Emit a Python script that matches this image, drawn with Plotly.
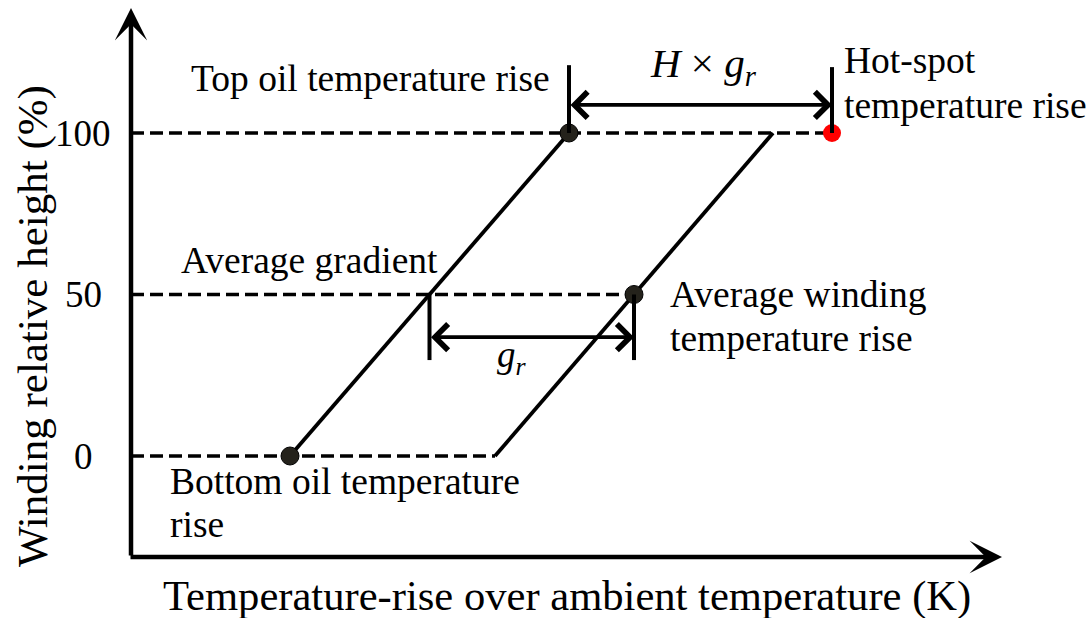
import plotly.graph_objects as go

# ---------------- data ----------------
heights = [0, 50, 100]                 # winding relative height (%)
ytick_labels = ["0", "50", "100"]
oil_rise = [15.9, 43.8]                # bottom oil / top oil temperature rise (at 0 % and 100 %)
winding_rise = [36.4, 64.2]            # winding temperature rise line (at 0 % and 100 %)
avg_oil = 29.85                        # oil temperature rise at 50 %
avg_winding = 50.3                     # average winding temperature rise (at 50 %)
hot_spot = 70.1                        # hot-spot temperature rise (at 100 %)
dot_x = [oil_rise[0], oil_rise[1], avg_winding]
dot_y = [heights[0], heights[2], heights[1]]

# ---------------- layout helpers ----------------
W, HGT = 1088, 618
X_RANGE = [-13.1, 95.7]
Y_RANGE = [-50.155, 141.176]
X0, Y0 = 0, -31.27                      # axes origin
X_TIP, Y_TIP = 87.1, 138.7              # arrow tips

def pxx(p):
    return p / W

def pxy(p):
    return 1 - p / HGT

FONT = "Liberation Serif, Times New Roman, serif"
fig = go.Figure()

# dashed reference lines
dash_ends = [winding_rise[0], avg_winding, hot_spot]
for h, xe in zip(heights, dash_ends):
    fig.add_trace(go.Scatter(x=[X0, xe], y=[h, h], mode="lines",
                             line=dict(color="black", width=3.4, dash="13px,6px"),
                             hoverinfo="skip", showlegend=False))

# oil and winding lines
fig.add_trace(go.Scatter(x=oil_rise, y=[heights[0], heights[2]], mode="lines",
                         line=dict(color="black", width=3.8), showlegend=False))
fig.add_trace(go.Scatter(x=winding_rise, y=[heights[0], heights[2]], mode="lines",
                         line=dict(color="black", width=3.8), showlegend=False))

# dots
fig.add_trace(go.Scatter(x=dot_x, y=dot_y, mode="markers",
                         marker=dict(size=18, color="#24221b", line=dict(color="black", width=1)),
                         showlegend=False))
fig.add_trace(go.Scatter(x=[hot_spot], y=[heights[2]], mode="markers",
                         marker=dict(size=18, color="#ff0000", line=dict(width=0)),
                         showlegend=False))

# vertical dimension ticks
ytop_dim, ylow_dim = 121.0, 29.7
shapes = [
    dict(type="line", x0=oil_rise[1], x1=oil_rise[1], y0=heights[2], y1=ytop_dim, line=dict(color="black", width=4)),
    dict(type="line", x0=hot_spot, x1=hot_spot, y0=heights[2], y1=120.4, line=dict(color="black", width=4)),
    dict(type="line", x0=avg_oil, x1=avg_oil, y0=heights[1], y1=ylow_dim, line=dict(color="black", width=4)),
    dict(type="line", x0=avg_winding, x1=avg_winding, y0=heights[1], y1=ylow_dim, line=dict(color="black", width=4)),
]

ann = []
# axes with arrows
ann.append(dict(x=X0, y=Y_TIP, ax=X0, ay=Y0, xref="x", yref="y", axref="x", ayref="y",
                text="", showarrow=True, arrowhead=3, arrowwidth=4.5, arrowsize=1.2, arrowcolor="black"))
ann.append(dict(x=X_TIP, y=Y0, ax=X0 - 0.2, ay=Y0, xref="x", yref="y", axref="x", ayref="y",
                text="", showarrow=True, arrowhead=3, arrowwidth=4.5, arrowsize=1.2, arrowcolor="black"))
# double arrows
for xa, xb, yy in [(oil_rise[1], hot_spot, 108.7), (avg_oil, avg_winding, 36.8)]:
    ann.append(dict(x=xb, y=yy, ax=xa, ay=yy, xref="x", yref="y", axref="x", ayref="y",
                    text="", showarrow=True, arrowside="end+start", arrowhead=4, startarrowhead=4,
                    arrowwidth=3.6, arrowsize=1.4, startarrowsize=1.4, arrowcolor="black"))

# y tick labels
for v, lab in zip(heights, ytick_labels):
    ann.append(dict(x=pxx(83), y=v, xref="paper", yref="y", text=lab, showarrow=False,
                    xanchor="center", yanchor="middle", font=dict(family=FONT, size=37, color="black")))

# text labels (left x, center y in pixels)
labels = [
    ("Top oil temperature rise", 189, 79),
    ("Hot-spot", 842, 61),
    ("temperature rise", 842, 106),
    ("Average gradient", 179, 260),
    ("Average winding", 668, 295),
    ("temperature rise", 668, 338),
    ("Bottom oil temperature", 168, 482),
    ("rise", 168, 524),
]
for t, lx, cy in labels:
    ann.append(dict(x=pxx(lx), y=pxy(cy), xref="paper", yref="paper", text=t, showarrow=False,
                    xanchor="left", yanchor="middle", font=dict(family=FONT, size=37.5, color="black")))

# math labels
ann.append(dict(x=pxx(703), y=pxy(66), xref="paper", yref="paper",
                text="<i>H</i> × <i>g</i><sub><i>r</i></sub>", showarrow=False,
                xanchor="center", yanchor="middle", font=dict(family=FONT, size=41, color="black")))
ann.append(dict(x=pxx(512), y=pxy(357), xref="paper", yref="paper",
                text="<i>g</i><sub><i>r</i></sub>", showarrow=False,
                xanchor="center", yanchor="middle", font=dict(family=FONT, size=37, color="black")))

# axis titles
ann.append(dict(x=pxx(567), y=pxy(596), xref="paper", yref="paper",
                text="Temperature-rise over ambient temperature (K)", showarrow=False,
                xanchor="center", yanchor="middle", font=dict(family=FONT, size=42.6, color="black")))
ann.append(dict(x=pxx(33), y=pxy(326), xref="paper", yref="paper", textangle=-90,
                text="Winding relative height (%)", showarrow=False,
                xanchor="center", yanchor="middle", font=dict(family=FONT, size=43, color="black")))

fig.update_layout(
    width=W, height=HGT,
    margin=dict(l=0, r=0, t=0, b=0),
    paper_bgcolor="white", plot_bgcolor="white",
    xaxis=dict(range=X_RANGE, visible=False, fixedrange=True),
    yaxis=dict(range=Y_RANGE, visible=False, fixedrange=True),
    shapes=shapes,
    annotations=ann,
    showlegend=False,
)

fig.write_html("out.html", config={"displayModeBar": False},
               post_script="document.body.style.margin='0';document.body.style.overflow='hidden';")
